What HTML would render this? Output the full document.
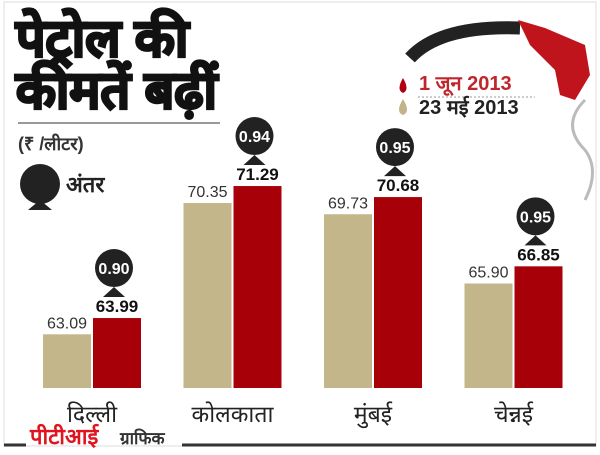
<!DOCTYPE html>
<html><head><meta charset="utf-8"><style>
body{margin:0;background:#fff;width:600px;height:450px;overflow:hidden;font-family:"Liberation Sans",sans-serif}
</style></head><body>
<svg width="600" height="450" viewBox="0 0 600 450">
<rect x="4" y="2" width="592" height="444" fill="#fff" stroke="#ddd" stroke-width="1"/>
<text x="16" y="56" font-size="52" font-weight="bold" fill="#111" stroke="#111" stroke-width="2.5">पेट्रोल की</text>
<text x="16" y="108" font-size="52" font-weight="bold" fill="#111" stroke="#111" stroke-width="2.5">कीमतें बढ़ीं</text>
<line x1="18" y1="123" x2="220" y2="123" stroke="#999" stroke-width="2"/>
<text x="18" y="150" font-size="18" font-weight="bold" fill="#333">(₹ /लीटर)</text>
<circle cx="40" cy="184" r="20" fill="#222"/>
<polygon points="28,210 40,200 52,210" fill="#222"/>
<text x="66" y="192" font-size="22" font-weight="bold" fill="#222">अंतर</text>
<path d="M410,58 Q440,25 520,28" stroke="#222" stroke-width="13" fill="none"/>
<path d="M518,20 L545,28 L585,45 L590,75 L575,100 L560,95 L555,70 L530,45 Z" fill="#c0141c"/>
<path d="M585,100 Q560,125 585,150 Q600,170 585,200" stroke="#bbb" stroke-width="3" fill="none"/>
<path d="M403,78 Q396,90 403,93 Q410,90 403,78Z" fill="#b00010"/>
<text x="419" y="90" font-size="20" font-weight="bold" fill="#c0272d">1 जून 2013</text>
<line x1="418" y1="97" x2="535" y2="97" stroke="#999" stroke-dasharray="2,2"/>
<path d="M403,99 Q395,112 403,115 Q411,112 403,99Z" fill="#c2b38a"/>
<text x="419" y="114" font-size="20" font-weight="bold" fill="#222">23 मई 2013</text>
<g id="bars"></g>
<line x1="4" y1="445" x2="26" y2="445" stroke="#333" stroke-width="3"/>
<line x1="182" y1="445" x2="596" y2="445" stroke="#333" stroke-width="3"/>
<text x="30" y="444" font-size="22" font-weight="bold" fill="#e0141e">पीटीआई</text>
<text x="120" y="444" font-size="17" font-weight="bold" fill="#333">ग्राफिक</text>
</svg>
<script>
const cities=["दिल्ली","कोलकाता","मुंबई","चेन्नई"];
const may=[63.09,70.35,69.73,65.90];
const jun=[63.99,71.29,70.68,66.85];
const diff=["0.90","0.94","0.95","0.95"];
const base=388,vmin=60.12,ppu=18.08;
function y(v){return base-(v-vmin)*ppu;}
function gx(i){return 43+i*140.5;}
const g=document.getElementById('bars');
const NS="http://www.w3.org/2000/svg";
function mk(t,a,txt){const e=document.createElementNS(NS,t);for(const k in a)e.setAttribute(k,a[k]);if(txt!==undefined)e.textContent=txt;g.appendChild(e);return e;}
cities.forEach((c,i)=>{
 const x=gx(i),w=48;
 let e=mk('rect',{x:x,y:y(may[i]),width:w,height:base-y(may[i]),fill:'#c2b68a'});
 
 
 e=mk('rect',{x:x+w+2,y:y(jun[i]),width:w,height:base-y(jun[i]),fill:'#a80008'});
 
 
 e=mk('text',{x:x+w/2,y:y(may[i])-6,'font-size':16,'text-anchor':'middle',fill:'#333'},may[i].toFixed(2));
 
 
 e=mk('text',{x:x+w+2+w/2,y:y(jun[i])-6,'font-size':17,'font-weight':'bold','text-anchor':'middle',fill:'#111'},jun[i].toFixed(2));
 
 
 const cx=x+w+2+w/2-3,cy=y(jun[i])-50;
 e=mk('circle',{cx:cx,cy:cy,r:19,fill:'#222'});
 
 
 e=mk('polygon',{points:(cx-11)+','+(cy+29)+' '+cx+','+(cy+19)+' '+(cx+11)+','+(cy+29),fill:'#222'});
 
 
 e=mk('text',{x:cx,y:cy+6,'font-size':16,'font-weight':'bold','text-anchor':'middle',fill:'#fff'},diff[i]);
 
 
 e=mk('text',{x:x+w+1,y:422,'font-size':23,'text-anchor':'middle',fill:'#222'},c);
 
 
});
</script>
</body></html>
